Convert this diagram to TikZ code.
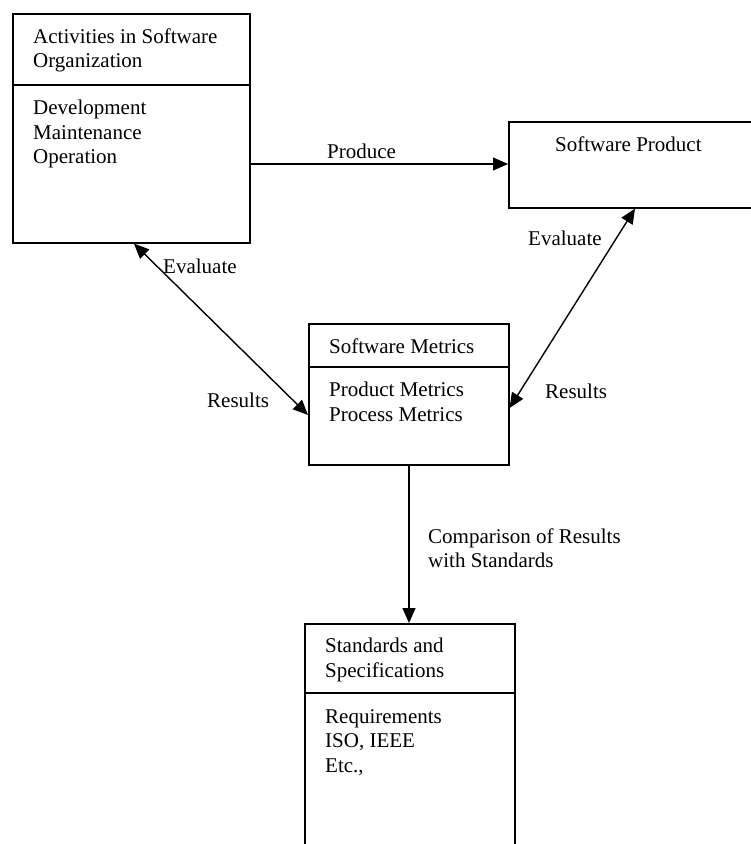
\documentclass[tikz,border=0pt]{standalone}
\usepackage{fontspec}
\setmainfont{Liberation Serif}
\usetikzlibrary{arrows.meta}
\begin{document}
\begin{tikzpicture}[x=1pt,y=-1pt,
  box/.style={draw=black, line width=1.6pt, inner sep=0pt, anchor=north west},
  txt/.style={anchor=base west, inner sep=0pt, align=left,
    font=\fontsize{21}{24.5}\selectfont},
  conn/.style={line width=1.4pt, -{Triangle[length=15pt,width=13pt]}},
  dconn/.style={line width=1.4pt, {Triangle[length=15pt,width=13pt]}-{Triangle[length=15pt,width=13pt]}}]
\clip (0,0) rectangle (751,844);
\fill[white] (0,0) rectangle (751,844);

% Activities box
\node[box, minimum width=237pt, minimum height=229pt] (act) at (12,13) {};
\draw[line width=1.6pt] (act.west |- 0,85) coordinate (actdl) -- (act.east |- 0,85) coordinate (actdr);
\node[txt] (acth) at (33,67.5) {Activities in Software\\Organization};
\node[txt] (actb) at (33,163.5) {Development\\Maintenance\\Operation};

% Software Product box (cut at right)
\node[box, minimum width=260pt, minimum height=86pt] (prod) at (508,121) {};
\node[txt] (prodh) at (555,151) {Software Product};

% Software Metrics box
\node[box, minimum width=200pt, minimum height=141pt] (met) at (308,323) {};
\draw[line width=1.6pt] (met.west |- 0,367) coordinate (metdl) -- (met.east |- 0,367) coordinate (metdr);
\node[txt] (meth) at (329,353) {Software Metrics};
\node[txt] (metb) at (329,421) {Product Metrics\\Process Metrics};

% Standards box (cut at bottom)
\node[box, minimum width=210pt, minimum height=240pt] (std) at (304,623) {};
\draw[line width=1.6pt] (std.west |- 0,693) coordinate (stddl) -- (std.east |- 0,693) coordinate (stddr);
\node[txt] (stdh) at (325,677) {Standards and\\Specifications};
\node[txt] (stdb) at (325,772) {Requirements\\ISO, IEEE\\Etc.,};

% Connectors
\draw[conn] (act.east |- 0,164) -- (prod.west |- 0,164);
\node[txt] (lprod) at (327,158) {Produce};

\draw[dconn] (act.south -| 134,0) -- (met.west |- 0,415);
\node[txt] (leval1) at (163,273) {Evaluate};
\node[txt] (lres1) at (207,407) {Results};

\draw[dconn] (met.east |- 0,408) -- (prod.south -| 635,0);
\node[txt] (leval2) at (528,245) {Evaluate};
\node[txt] (lres2) at (545,398) {Results};

\draw[conn] (met.south -| 409,0) -- (std.north -| 409,0);
\node[txt] (lcomp) at (428,567.5) {Comparison of Results\\with Standards};
\end{tikzpicture}
\end{document}
